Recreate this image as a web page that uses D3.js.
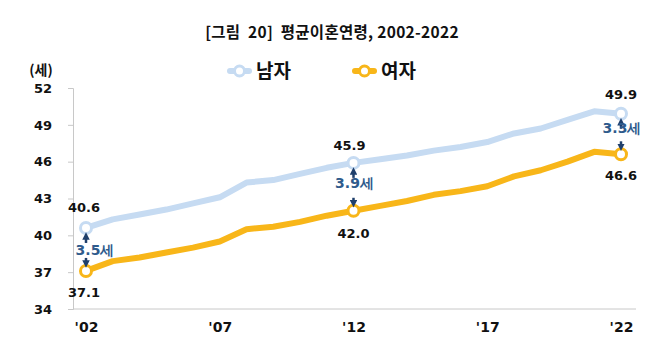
<!DOCTYPE html>
<html><head><meta charset="utf-8">
<script src="https://cdn.jsdelivr.net/npm/d3@7"></script>
<style>body{margin:0;background:#fff}svg{display:block}</style>
</head><body>
<script>
const years = d3.range(2002, 2023);
const male = [40.6,41.3,41.7,42.1,42.6,43.1,44.3,44.5,45.0,45.5,45.9,46.2,46.5,46.9,47.2,47.6,48.3,48.7,49.4,50.1,49.9];
const female = [37.1,37.9,38.2,38.6,39.0,39.5,40.5,40.7,41.1,41.6,42.0,42.4,42.8,43.3,43.6,44.0,44.8,45.3,46.0,46.8,46.6];
const yTicks = [34,37,40,43,46,49,52];
const xTickYears = [2002,2007,2012,2017,2022];
const xTickLabels = ["'02","'07","'12","'17","'22"];
const seriesNames = ["남자","여자"];
const colors = ["#c6dbf2","#f8b619"];
const markYears = [2002,2012,2022];
const gaps = ["3.5세","3.9세","3.3세"];

const W=658,H=358;
const svg=d3.select("body").append("svg").attr("width",W).attr("height",H);
const x=d3.scaleLinear().domain([2002,2022]).range([86,621]);
const y=d3.scaleLinear().domain([34,52]).range([309,88]);
const numFont="'DejaVu Sans', Verdana, sans-serif";
const krFont="'Noto Sans CJK KR', sans-serif";

svg.append("text").attr("x",332).attr("y",38).attr("text-anchor","middle")
  .attr("font-family",krFont).attr("font-weight",700).attr("font-size",15.5).attr("fill","#111")
  .style("white-space","pre").attr("letter-spacing",0.3)
  .text("[그림  20]  평균이혼연령, 2002-2022");
svg.append("text").attr("x",41).attr("y",75).attr("text-anchor","middle")
  .attr("font-family",krFont).attr("font-weight",700).attr("font-size",14).attr("fill","#111").text("(세)");

// axes
const yAxis=svg.append("g").attr("transform","translate(73,0)")
  .call(d3.axisLeft(y).tickValues(yTicks).tickSize(5).tickPadding(16));
yAxis.select(".domain").attr("stroke","#c8c8c8");
yAxis.selectAll(".tick line").attr("stroke","#c8c8c8");
yAxis.selectAll("text").attr("font-family",numFont).attr("font-weight",700).attr("font-size",13).attr("fill","#111");
svg.append("line").attr("x1",73).attr("x2",636).attr("y1",309).attr("y2",309).attr("stroke","#c8c8c8");
const xAxis=svg.append("g").attr("transform","translate(0,309)")
  .call(d3.axisBottom(x).tickValues(xTickYears).tickFormat((d,i)=>xTickLabels[i]).tickSize(0).tickPadding(13));
xAxis.select(".domain").remove();
xAxis.selectAll("text").attr("font-family",numFont).attr("font-weight",700).attr("font-size",14).attr("fill","#111");

// lines
const line=d3.line().x((d,i)=>x(years[i])).y(d=>y(d));
[male,female].forEach((s,k)=>{
  svg.append("path").datum(s).attr("d",line).attr("fill","none")
    .attr("stroke",colors[k]).attr("stroke-width",6).attr("stroke-linejoin","round");
  svg.selectAll(null).data(markYears).enter().append("circle")
    .attr("cx",d=>x(d)).attr("cy",d=>y(s[d-2002])).attr("r",5.5)
    .attr("fill","#fff").attr("stroke",colors[k]).attr("stroke-width",3);
});

// value labels
const lbl=(t,cx,cy)=>svg.append("text").attr("x",cx).attr("y",cy).attr("text-anchor","middle")
  .attr("font-family",numFont).attr("font-weight",700).attr("font-size",13).attr("fill","#111").text(t);
lbl(male[0].toFixed(1),x(2002)-2,y(male[0])-16);
lbl(female[0].toFixed(1),x(2002)-2,y(female[0])+26);
lbl(male[10].toFixed(1),x(2012)-4,y(male[10])-13);
lbl(female[10].toFixed(1),x(2012),y(female[10])+27);
lbl(male[20].toFixed(1),x(2022),y(male[20])-15);
lbl(female[20].toFixed(1),x(2022),y(female[20])+26);

// gap annotations
const arrowCol="#1f3f6b";
const defs=svg.append("defs");
defs.append("marker").attr("id","ah").attr("viewBox","0 0 10 10").attr("refX",5).attr("refY",5)
  .attr("markerWidth",3).attr("markerHeight",3).attr("orient","auto-start-reverse")
  .append("path").attr("d","M0,0 L10,5 L0,10 z").attr("fill",arrowCol);
markYears.forEach((yr,i)=>{
  const i0=yr-2002, cx=x(yr);
  const ym=y(male[i0]), yf=y(female[i0]);
  const mid=(ym+yf)/2;
  svg.append("line").attr("x1",cx).attr("x2",cx).attr("y1",ym+15).attr("y2",ym+8)
    .attr("stroke",arrowCol).attr("stroke-width",2.5).attr("marker-end","url(#ah)");
  svg.append("line").attr("x1",cx).attr("x2",cx).attr("y1",yf-13).attr("y2",yf-7)
    .attr("stroke",arrowCol).attr("stroke-width",2.5).attr("marker-end","url(#ah)");
  svg.append("text").attr("x",cx+(i===0?9:1)).attr("y",(i===0?mid+6:i===1?mid+1:mid-1))
    .attr("text-anchor","middle").attr("font-family",numFont).attr("font-weight",700)
    .attr("font-size",14).attr("fill","#2f5b8c").text(gaps[i]);
});

// legend
const lg=[{x:228,t:seriesNames[0],c:colors[0]},{x:353,t:seriesNames[1],c:colors[1]}];
lg.forEach(d=>{
  svg.append("line").attr("x1",d.x+2).attr("x2",d.x+21).attr("y1",71).attr("y2",71)
    .attr("stroke",d.c).attr("stroke-width",6).attr("stroke-linecap","round");
  svg.append("circle").attr("cx",d.x+11.5).attr("cy",71).attr("r",5).attr("fill","#fff")
    .attr("stroke",d.c).attr("stroke-width",3);
  svg.append("text").attr("x",d.x+28).attr("y",78).attr("font-family",krFont)
    .attr("font-weight",700).attr("font-size",19).attr("fill","#111").text(d.t);
});
</script>
</body></html>
